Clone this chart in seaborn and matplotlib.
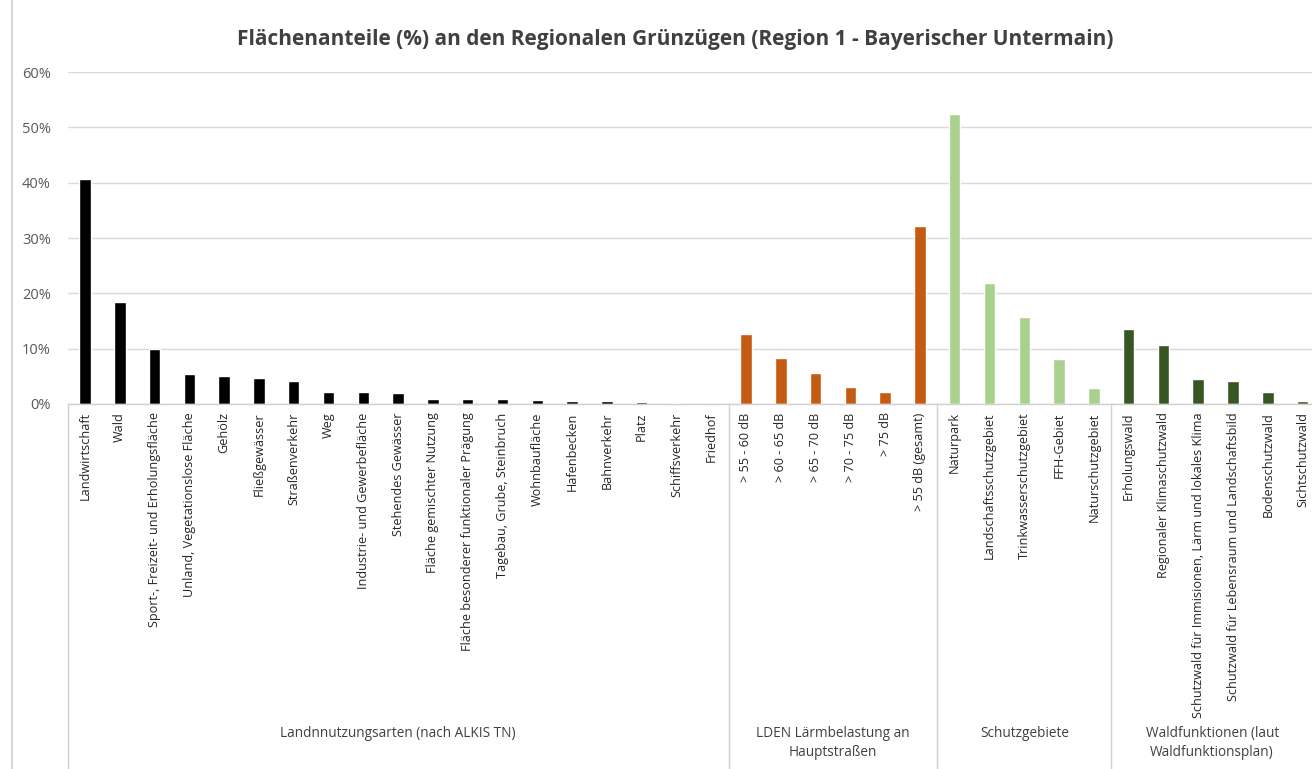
import matplotlib
matplotlib.use("Agg")
import matplotlib.pyplot as plt
import matplotlib.transforms as mtransforms
import seaborn as sns
import pandas as pd

# ---------------- data ----------------
land_cats = ["Landwirtschaft", "Wald", "Sport-, Freizeit- und Erholungsfläche",
             "Unland, Vegetationslose Fläche", "Gehölz", "Fließgewässer", "Straßenverkehr",
             "Weg", "Industrie- und Gewerbefläche", "Stehendes Gewässer",
             "Fläche gemischter Nutzung", "Fläche besonderer funktionaler Prägung",
             "Tagebau, Grube, Steinbruch", "Wohnbaufläche", "Hafenbecken", "Bahnverkehr",
             "Platz", "Schiffsverkehr", "Friedhof"]
land_vals = [40.6, 18.5, 9.9, 5.5, 5.1, 4.7, 4.1, 2.2, 2.1, 2.0,
             0.9, 0.9, 0.85, 0.65, 0.5, 0.5, 0.4, 0.2, 0.0]

laerm_cats = ["> 55 - 60 dB", "> 60 - 65 dB", "> 65 - 70 dB", "> 70 - 75 dB", "> 75 dB",
              "> 55 dB (gesamt)"]
laerm_vals = [12.6, 8.4, 5.6, 3.1, 2.2, 32.2]

schutz_cats = ["Naturpark", "Landschaftsschutzgebiet", "Trinkwasserschutzgebiet",
               "FFH-Gebiet", "Naturschutzgebiet"]
schutz_vals = [52.4, 21.9, 15.8, 8.1, 2.9]

wald_cats = ["Erholungswald", "Regionaler Klimaschutzwald",
             "Schutzwald für Immisionen, Lärm und lokales Klima",
             "Schutzwald für Lebensraum und Landschaftsbild", "Bodenschutzwald",
             "Sichtschutzwald"]
wald_vals = [13.5, 10.7, 4.5, 4.1, 2.2, 0.5]

group_names = ["Landnnutzungsarten (nach ALKIS TN)",
               "LDEN Lärmbelastung an\nHauptstraßen",
               "Schutzgebiete",
               "Waldfunktionen (laut\nWaldfunktionsplan)"]
group_colors = ["#000000", "#C55A11", "#A9D18E", "#375623"]

y_ticks = [0, 10, 20, 30, 40, 50, 60]
title = "Flächenanteile (%) an den Regionalen Grünzügen (Region 1 - Bayerischer Untermain)"

# ---------------- table ----------------
cat_lists = [land_cats, laerm_cats, schutz_cats, wald_cats]
val_lists = [land_vals, laerm_vals, schutz_vals, wald_vals]
rows = []
for g, cats, vals in zip(group_names, cat_lists, val_lists):
    for c, v in zip(cats, vals):
        rows.append({"Kategorie": c, "Anteil": v, "Gruppe": g})
df = pd.DataFrame(rows)

# ---------------- figure ----------------
sns.set_theme(style="white")
FONT = ["Open Sans", "DejaVu Sans"]
plt.rcParams["font.family"] = FONT

W, H = 1312, 769
fig = plt.figure(figsize=(W / 100, H / 100), dpi=100)
x_left, x_right = 67.6, 1320.0
y_zero, y_top = 404.0, 72.0
ax = fig.add_axes([x_left / W, 1 - y_zero / H, (x_right - x_left) / W, (y_zero - y_top) / H])

sns.barplot(data=df, x="Kategorie", y="Anteil", hue="Gruppe",
            palette=dict(zip(group_names, group_colors)), dodge=False,
            width=0.33, legend=False, ax=ax, saturation=1)

ax.set_ylim(0, 60)
ax.set_xlim(-0.5, len(df) - 0.5)
ax.set_yticks(y_ticks)
ax.set_yticklabels([f"{t}%" for t in y_ticks], color="#595959", fontsize=10.5)
ax.tick_params(axis="y", length=0, pad=12)
ax.tick_params(axis="x", length=0, pad=6)
ax.set_xticks(range(len(df)))
ax.set_xticklabels(df["Kategorie"], rotation=90, fontsize=9.1, color="#262626",
                   va="top", ha="center")
ax.set_xlabel("")
ax.set_ylabel("")
ax.grid(axis="y", color="#D9D9D9", linewidth=1)
ax.set_axisbelow(True)
for s in ["left", "right", "top"]:
    ax.spines[s].set_visible(False)
ax.spines["bottom"].set_color("#D0D0D0")
ax.spines["bottom"].set_linewidth(1)

# group separators and labels
trans = mtransforms.blended_transform_factory(ax.transData, ax.transAxes)
bottom_ax = (y_zero - H) / (y_zero - y_top)
bounds = [-0.5]
n = 0
for cats in cat_lists:
    n += len(cats)
    bounds.append(n - 0.5)
for b in bounds[:-1]:
    ax.plot([b, b], [0, bottom_ax], color="#D0D0D0", lw=1, transform=trans, clip_on=False)

label_y = (y_zero - 726) / (y_zero - y_top)
for i, g in enumerate(group_names):
    xc = (bounds[i] + bounds[i + 1]) / 2
    if i == len(group_names) - 1:
        xc = (bounds[i] + 35.5 - 0.2) / 2
    ax.text(xc, label_y, g, transform=trans, ha="center", va="top", fontsize=9.8,
            color="#404040", linespacing=1.35)

# outer chart border (left)
fig.add_artist(plt.Line2D([12 / W, 12 / W], [0, 1], color="#D9D9D9", lw=1.5,
                          transform=fig.transFigure))

fig.text(675 / W, 1 - 40 / H, title, ha="center", va="center", fontsize=15,
         fontweight="bold", color="#404040")

fig.savefig("out.png", dpi=100)
